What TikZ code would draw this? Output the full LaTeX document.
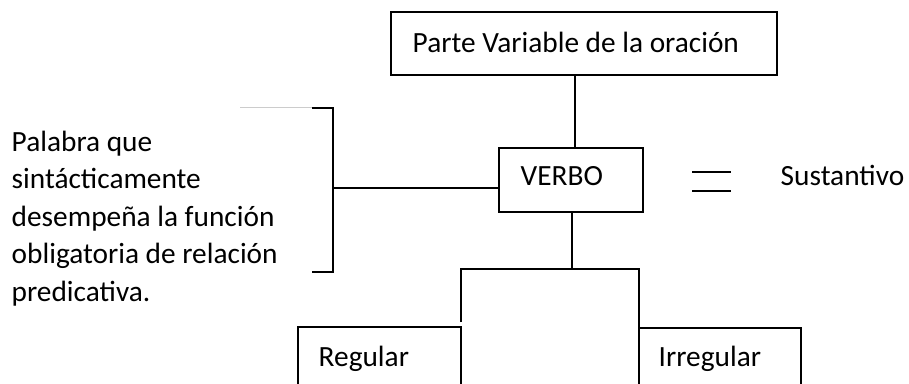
\documentclass[tikz,border=0pt]{standalone}
\usepackage{fontspec}
\setmainfont{Carlito}
\begin{document}
\begin{tikzpicture}[x=0.75pt,y=-0.75pt,
  line width=1.1pt,
  txt/.style={font=\fontsize{22}{28}\selectfont, inner sep=0pt, anchor=base west},
  boxst/.style={draw, line width=1.1pt}]
\useasboundingbox (0,0) rectangle (909,383);
% boxes
\draw[boxst] (391,12) rectangle (777,75);
\node[txt] (top) at (412,52) {Parte Variable de la oración};
\coordinate (topb) at (575,75);
\draw[boxst] (499,148) rectangle (643,212);
\node[txt] (verbo) at (520,185) {VERBO};
\coordinate (vt) at (575,148);
\coordinate (vb) at (572,212);
\coordinate (vl) at (499,188);
\draw (topb) -- (vt);
% bracket
\coordinate (br) at (333,188);
\draw (vl) -- (br);
\draw (312,108) -- (333,108) -- (333,272) -- (312,272);
\draw[line width=0.6pt, black!20] (240,107) -- (312,107);
\node[txt] (def1) at (11,151) {Palabra que};
\node[txt] (def2) at (11,188.5) {sintácticamente};
\node[txt] (def3) at (11,226) {desempeña la función};
\node[txt] (def4) at (11,263.5) {obligatoria de relación};
\node[txt] (def5) at (11,301) {predicativa.};
% equal
\draw (692,172) -- (731,172);
\draw (692,191) -- (731,191);
\node[txt] (sus) at (780,185) {Sustantivo};
% tree
\coordinate (j) at (572,269);
\draw (vb) -- (j);
\draw (461,322) -- (461,269) -- (639,269) -- (639,328);
\draw[boxst] (298,390) -- (298,327) -- (461,327) -- (461,390);
\draw[boxst] (639,390) -- (639,328) -- (801,328) -- (801,390);
\node[txt] (reg) at (318,366) {Regular};
\node[txt] (irr) at (658,366) {Irregular};
\end{tikzpicture}
\end{document}
